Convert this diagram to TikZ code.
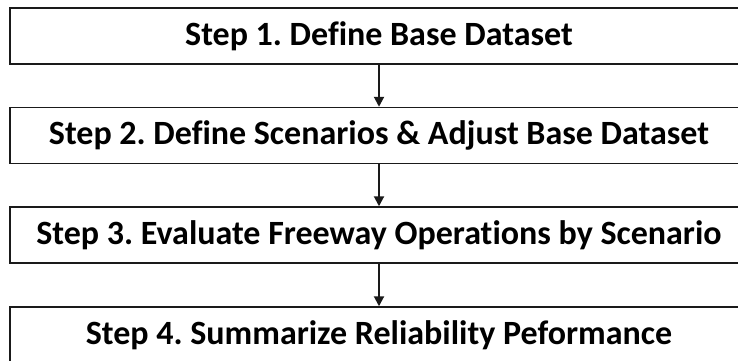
\documentclass[tikz,border=0pt]{standalone}
\usepackage{fontspec}
\setmainfont[Ligatures=NoCommon]{Carlito}
\usepackage{xcolor}
\usepackage{tikz}
\usetikzlibrary{calc,arrows.meta}
\definecolor{bg}{HTML}{FFFFFF}
\definecolor{line}{HTML}{1A1A1A}
\definecolor{text}{HTML}{000000}
\frenchspacing
\tikzset{
  stepbox/.style={draw=line, line width=1.5pt, fill=bg, text=text,
    minimum width=738.5pt, minimum height=56pt, inner sep=0pt,
    font=\fontsize{34}{38}\selectfont\bfseries},
  flow/.style={draw=line, line width=2pt,
    -{Triangle[width=10pt,length=10pt]}},
}
\begin{document}
\begin{tikzpicture}[x=1pt,y=-1pt]
  \useasboundingbox (0,0) rectangle (738,360);
  \clip (0,0) rectangle (738,360);
  \fill[bg] (0,0) rectangle (738,360);

  \node[stepbox] (step1) at (379,36)  {Step 1. Define Base Dataset};
  \node[stepbox] (step2) at (379,135.5) {Step 2. Define Scenarios \& Adjust Base Dataset};
  \node[stepbox] (step3) at (379,235) {Step 3. Evaluate Freeway Operations by Scenario};
  \node[stepbox] (step4) at (379,335) {Step 4. Summarize Reliability Peformance};

  % arrows between the steps
  \draw[flow] (step1.south) -- (step2.north);
  \draw[flow] (step2.south) -- (step3.north);
  \draw[flow] (step3.south) -- (step4.north);
\end{tikzpicture}
\end{document}
